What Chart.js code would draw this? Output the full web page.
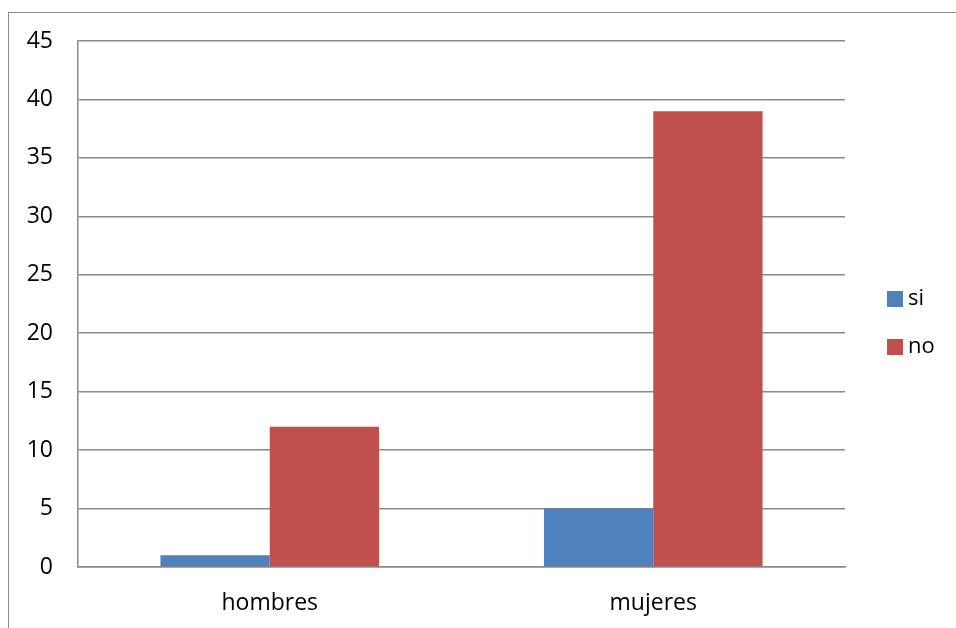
<!DOCTYPE html>
<html>
<head>
<meta charset="utf-8">
<script src="https://cdn.jsdelivr.net/npm/chart.js@4/dist/chart.umd.min.js"></script>
<style>
  html, body { margin: 0; padding: 0; background: #fff; }
  #wrap { position: relative; width: 956px; height: 628px; overflow: hidden; }
  #frame { position: absolute; left: 8px; top: 12px; width: 1000px; height: 700px; border: 1px solid #8a8a8a; box-sizing: border-box; }
  canvas { position: absolute; left: 0; top: 0; }
</style>
</head>
<body>
<div id="wrap">
  <div id="frame"></div>
  <canvas id="c" width="956" height="628"></canvas>
</div>
<script>
const categories = ['hombres', 'mujeres'];
const siValues = [1, 5];
const noValues = [12, 39];
const seriesNames = ['si', 'no'];

const FONT = '"Open Sans", "Liberation Sans", sans-serif';

// Legend drawn to the right of the plot, one row per series
const sideLegend = {
  id: 'sideLegend',
  afterDraw(chart) {
    const ctx = chart.ctx;
    const rows = [299, 347];
    ctx.save();
    chart.data.datasets.forEach((ds, i) => {
      const y = rows[i];
      ctx.fillStyle = ds.backgroundColor;
      ctx.fillRect(887, y - 8, 16, 16);
      ctx.fillStyle = '#000';
      ctx.font = '22px ' + FONT;
      ctx.textBaseline = 'middle';
      ctx.textAlign = 'left';
      ctx.fillText(ds.label, 908, y);
    });
    ctx.restore();
  }
};

new Chart(document.getElementById('c'), {
  type: 'bar',
  data: {
    labels: categories,
    datasets: [
      { label: seriesNames[0], data: siValues, backgroundColor: '#4f81bd' },
      { label: seriesNames[1], data: noValues, backgroundColor: '#c0504d' }
    ]
  },
  options: {
    responsive: false,
    animation: false,
    devicePixelRatio: 1,
    layout: { padding: { top: 41, right: 111, left: 0, bottom: 0 } },
    datasets: { bar: { categoryPercentage: 0.57, barPercentage: 1.0 } },
    plugins: { legend: { display: false }, tooltip: { enabled: false } },
    scales: {
      x: {
        grid: { display: false, drawTicks: false },
        border: { color: '#8a8a8a', width: 1.5 },
        ticks: { color: '#000', font: { family: FONT, size: 23 }, padding: 23 },
        afterFit(s) { s.height = 61; }
      },
      y: {
        min: 0, max: 45,
        ticks: { stepSize: 5, color: '#000', font: { family: FONT, size: 23 }, padding: 25 },
        grid: { color: '#8a8a8a', lineWidth: 1.5, drawTicks: false },
        border: { color: '#8a8a8a', width: 1.5 },
        afterFit(s) { s.width = 78; }
      }
    }
  },
  plugins: [sideLegend]
});
</script>
</body>
</html>
